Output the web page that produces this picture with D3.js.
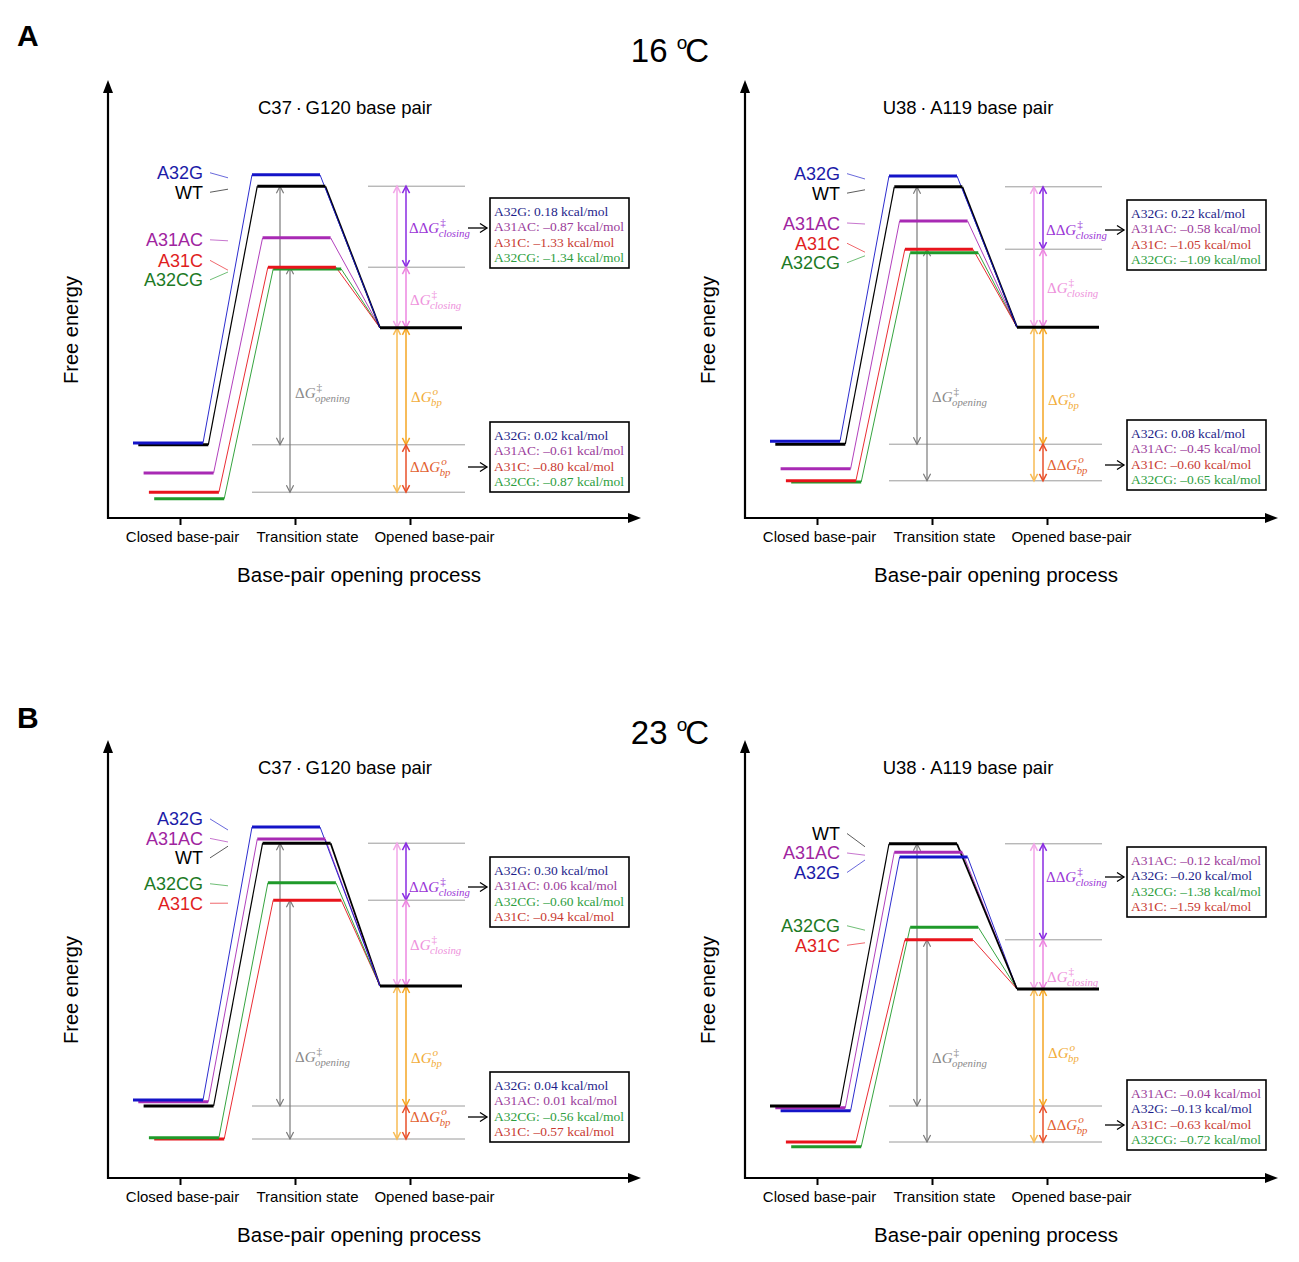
<!DOCTYPE html>
<html><head><meta charset="utf-8">
<script src="https://cdn.jsdelivr.net/npm/d3@7"></script>
<style>body{margin:0;background:#fff;} svg{display:block;font-family:"Liberation Sans",Arial,sans-serif;}</style>
</head><body><svg id="c" width="1299" height="1262"></svg>
<script>
// ---------- data ----------
const variants = ["WT", "A32G", "A31AC", "A31C", "A32CG"];
const states = ["Closed base-pair", "Transition state", "Opened base-pair"];
// free-energy levels (≈ kcal/mol; order = variants)
const closed16CG = [1.22, 1.25, 0.75, 0.43, 0.32];
const ts16CG     = [5.53, 5.72, 4.67, 4.18, 4.15];
const open16CG   = 3.17;
const closed16UA = [1.23, 1.28, 0.82, 0.62, 0.60];
const ts16UA     = [5.52, 5.70, 4.95, 4.48, 4.42];
const open16UA   = 3.18;
const closed23CG = [1.20, 1.30, 1.27, 0.65, 0.67];
const ts23CG     = [5.58, 5.85, 5.65, 4.63, 4.92];
const open23CG   = 3.20;
const closed23UA = [1.20, 1.12, 1.17, 0.60, 0.52];
const ts23UA     = [5.57, 5.35, 5.43, 3.97, 4.18];
const open23UA   = 3.15;
// boxed values
const ddgClose16CG = [["A32G","0.18"],["A31AC","\u20130.87"],["A31C","\u20131.33"],["A32CG","\u20131.34"]];
const ddgBp16CG    = [["A32G","0.02"],["A31AC","\u20130.61"],["A31C","\u20130.80"],["A32CG","\u20130.87"]];
const ddgClose16UA = [["A32G","0.22"],["A31AC","\u20130.58"],["A31C","\u20131.05"],["A32CG","\u20131.09"]];
const ddgBp16UA    = [["A32G","0.08"],["A31AC","\u20130.45"],["A31C","\u20130.60"],["A32CG","\u20130.65"]];
const ddgClose23CG = [["A32G","0.30"],["A31AC","0.06"],["A32CG","\u20130.60"],["A31C","\u20130.94"]];
const ddgBp23CG    = [["A32G","0.04"],["A31AC","0.01"],["A32CG","\u20130.56"],["A31C","\u20130.57"]];
const ddgClose23UA = [["A31AC","\u20130.12"],["A32G","\u20130.20"],["A32CG","\u20131.38"],["A31C","\u20131.59"]];
const ddgBp23UA    = [["A31AC","\u20130.04"],["A32G","\u20130.13"],["A31C","\u20130.63"],["A32CG","\u20130.72"]];
const titleCG = "C37\u2009\u00b7\u2009G120 base pair";
const titleUA = "U38\u2009\u00b7\u2009A119 base pair";

// ---------- styles / layout ----------
const serif = "'Liberation Serif','Times New Roman',serif";
const lineCol = {WT:"#000000", A32G:"#1414c8", A31AC:"#a82ab4", A31C:"#e8141c", A32CG:"#1f9a2a"};
const labCol  = {WT:"#000000", A32G:"#1c1ca8", A31AC:"#a0259f", A31C:"#e01e1e", A32CG:"#1d7a25"};
const boxCol  = {A32G:"#1e1e8a", A31AC:"#9a3c9a", A31C:"#c83a32", A32CG:"#2e9e40"};
const C = {grey:"#7a7a7a", pink:"#ec86e0", pinkL:"#f2a6e8", purple:"#8a2be2", orange:"#f5a623", orangeL:"#f7bb55", red:"#e8502a"};
const L = {closedX:25, closedW:70, tsX:144, tsW:68, openX:272, openX1:354, step:5.3,
           refUpX:260, refLowX:144, refX1:357, gOpen:[172,182], gR:[289,298], annX:302,
           boxX:382, boxW:139, boxH:70, xLen:533, yLen:438};

const panels = [
  {ox:108, oy:518, tx:237, title:titleCG, closed:closed16CG, ts:ts16CG, open:open16CG, bc:ddgClose16CG, bb:ddgBp16CG, ann:[-290,-218,-121,-51,-125]},
  {ox:745, oy:518, tx:223, title:titleUA, closed:closed16UA, ts:ts16UA, open:open16UA, bc:ddgClose16UA, bb:ddgBp16UA, ann:[-288,-230,-118,-53,-121]},
  {ox:108, oy:1178, tx:237, title:titleCG, closed:closed23CG, ts:ts23CG, open:open23CG, bc:ddgClose23CG, bb:ddgBp23CG, ann:[-291,-233,-120,-61,-121]},
  {ox:745, oy:1178, tx:223, title:titleUA, closed:closed23UA, ts:ts23UA, open:open23UA, bc:ddgClose23UA, bb:ddgBp23UA, ann:[-301,-201,-125,-53,-120]}
];

const svg = d3.select("#c");

function dArrow(g, x, y1, y2, color, w) {
  const a = 7, h = 3.6;
  g.append("line").attr("x1", x).attr("x2", x).attr("y1", y1).attr("y2", y2)
    .attr("stroke", color).attr("stroke-width", w);
  g.append("path").attr("d", `M${x-h},${y1+a}L${x},${y1}L${x+h},${y1+a}M${x-h},${y2-a}L${x},${y2}L${x+h},${y2-a}`)
    .attr("fill", "none").attr("stroke", color).attr("stroke-width", w);
}
function hArrow(g, x1, x2, y) {
  g.append("line").attr("x1", x1).attr("x2", x2).attr("y1", y).attr("y2", y).attr("stroke", "#000").attr("stroke-width", 1.3);
  g.append("path").attr("d", `M${x2-7},${y-4.5}L${x2},${y}L${x2-7},${y+4.5}`).attr("fill", "none").attr("stroke", "#000").attr("stroke-width", 1.3);
}
function mathLabel(g, x0, yc, pre, sup, sub, color, size) {
  const t = g.append("text").attr("x", x0).attr("y", yc + size*0.33)
    .attr("font-family", serif).attr("font-size", size).attr("fill", color);
  t.append("tspan").text(pre);
  t.append("tspan").attr("font-style", "italic").text("G");
  const w = t.node().getComputedTextLength();
  const s1 = g.append("text").attr("x", x0 + w + 1).attr("y", yc - size*0.12)
    .attr("font-family", serif).attr("font-size", size*0.75).attr("font-style", sup === "o" ? "italic" : "normal")
    .attr("fill", color).text(sup);
  const s2 = g.append("text").attr("x", x0 + w - 0.5).attr("y", yc + size*0.62)
    .attr("font-family", serif).attr("font-size", size*0.72).attr("font-style", "italic")
    .attr("fill", color).text(sub);
  return w + Math.max(s1.node().getComputedTextLength(), s2.node().getComputedTextLength());
}

function drawPanel(p) {
  const g = svg.append("g");
  const x = d3.scaleLinear().domain([0, L.xLen]).range([p.ox, p.ox + L.xLen]);
  const y = d3.scaleLinear().domain([0, 7.3]).range([p.oy, p.oy - L.yLen]);
  const iWT = variants.indexOf("WT"), iC = variants.indexOf("A31C");

  // reference lines
  [[p.ts[iWT], L.refUpX], [p.ts[iC], L.refUpX], [p.closed[iWT], L.refLowX], [p.closed[iC], L.refLowX]].forEach(([v, x0]) => {
    g.append("line").attr("x1", x(x0)).attr("x2", x(L.refX1)).attr("y1", y(v)).attr("y2", y(v))
      .attr("stroke", "#9a9a9a").attr("stroke-width", 1);
  });

  // annotation arrows
  dArrow(g, x(L.gOpen[0]), y(p.ts[iWT]), y(p.closed[iWT]), C.grey, 1.2);
  dArrow(g, x(L.gOpen[1]), y(p.ts[iC]), y(p.closed[iC]), C.grey, 1.2);
  dArrow(g, x(L.gR[0]), y(p.ts[iWT]), y(p.open), C.pinkL, 1.5);
  dArrow(g, x(L.gR[0]), y(p.open), y(p.closed[iC]), C.orangeL, 1.5);
  dArrow(g, x(L.gR[1]), y(p.ts[iWT]), y(p.ts[iC]), C.purple, 1.5);
  dArrow(g, x(L.gR[1]), y(p.ts[iC]), y(p.open), C.pink, 1.5);
  dArrow(g, x(L.gR[1]), y(p.open), y(p.closed[iWT]), C.orange, 1.5);
  dArrow(g, x(L.gR[1]), y(p.closed[iWT]), y(p.closed[iC]), C.red, 1.5);

  // annotation labels
  const [yDDc, yDc, yDb, yDDb, yOp] = p.ann.map(v => p.oy + v);
  mathLabel(g, x(L.annX - 1), yDDc, "\u0394\u0394", "\u2021", "closing", "#9b35d6", 15);
  mathLabel(g, x(L.annX), yDc, "\u0394", "\u2021", "closing", "#ee92dc", 15);
  mathLabel(g, x(L.annX + 1), yDb, "\u0394", "o", "bp", "#f2ad3a", 15);
  mathLabel(g, x(L.annX), yDDb, "\u0394\u0394", "o", "bp", "#e2612f", 15);
  mathLabel(g, x(L.gOpen[1] + 5), yOp, "\u0394", "\u2021", "opening", "#8a8a8a", 15);

  // boxes
  [[p.bc, yDDc, 30], [p.bb, yDDb, 45]].forEach(([rows, yy, dt]) => {
    hArrow(g, x(360), x(379), yy);
    const top = yy - dt;
    g.append("rect").attr("x", x(L.boxX)).attr("y", top).attr("width", L.boxW).attr("height", L.boxH)
      .attr("fill", "#fff").attr("stroke", "#000").attr("stroke-width", 1.6);
    g.selectAll(null).data(rows).join("text")
      .attr("x", x(L.boxX + 4)).attr("y", (d, i) => top + 13 + i * 15.5 + 4.5)
      .attr("font-family", serif).attr("font-size", 13.5)
      .attr("fill", d => boxCol[d[0]])
      .text(d => `${d[0]}: ${d[1]} kcal/mol`);
  });

  // energy levels
  const order = d3.range(variants.length).sort((a, b) => p.closed[b] - p.closed[a]);
  const off = {};
  order.forEach((i, r) => off[i] = r * L.step);
  const drawOrder = order.slice().reverse();
  drawOrder.forEach(i => {
    const v = variants[i], col = lineCol[v], o = off[i];
    g.append("path")
      .attr("d", `M${x(L.closedX + L.closedW + o)},${y(p.closed[i])}L${x(L.tsX + o)},${y(p.ts[i])}`)
      .attr("stroke", col).attr("stroke-width", v === "WT" ? 1.2 : 0.9).attr("fill", "none");
    g.append("path")
      .attr("d", `M${x(L.tsX + L.tsW + o)},${y(p.ts[i])}L${x(L.openX)},${y(p.open)}`)
      .attr("stroke", col).attr("stroke-width", v === "WT" ? 1.8 : 0.9).attr("fill", "none");
  });
  drawOrder.forEach(i => {
    const v = variants[i], col = lineCol[v], o = off[i];
    g.append("line").attr("x1", x(L.closedX + o)).attr("x2", x(L.closedX + L.closedW + o))
      .attr("y1", y(p.closed[i])).attr("y2", y(p.closed[i])).attr("stroke", col).attr("stroke-width", 3);
    g.append("line").attr("x1", x(L.tsX + o)).attr("x2", x(L.tsX + L.tsW + o))
      .attr("y1", y(p.ts[i])).attr("y2", y(p.ts[i])).attr("stroke", col).attr("stroke-width", 3);
  });
  g.append("line").attr("x1", x(L.openX)).attr("x2", x(L.openX1)).attr("y1", y(p.open)).attr("y2", y(p.open))
    .attr("stroke", "#000").attr("stroke-width", 3);

  // variant labels with simple repulsion
  const byTs = d3.range(variants.length).sort((a, b) => p.ts[b] - p.ts[a]);
  const ly = byTs.map(i => y(p.ts[i]) + 2);
  const gap = 19.5;
  for (let it = 0; it < 300; it++) {
    let moved = false;
    for (let k = 1; k < ly.length; k++) {
      const d = ly[k] - ly[k-1];
      if (d < gap - 0.01) { const s = (gap - d) / 2; ly[k-1] -= s; ly[k] += s; moved = true; }
    }
    if (!moved) break;
  }
  byTs.forEach((i, k) => {
    const v = variants[i];
    g.append("text").attr("x", x(95)).attr("y", ly[k] + 6.5).attr("text-anchor", "end")
      .attr("font-size", 18).attr("fill", labCol[v]).text(v);
    g.append("line").attr("x1", x(102)).attr("y1", ly[k]).attr("x2", x(120)).attr("y2", y(p.ts[i]) + 3)
      .attr("stroke", lineCol[v]).attr("stroke-width", 0.8).attr("opacity", 0.8);
  });

  // axes
  g.append("line").attr("x1", p.ox).attr("y1", p.oy + 1).attr("x2", p.ox).attr("y2", p.oy - L.yLen + 10)
    .attr("stroke", "#000").attr("stroke-width", 2.2);
  g.append("path").attr("d", `M${p.ox},${p.oy - L.yLen}L${p.ox - 5},${p.oy - L.yLen + 13}L${p.ox + 5},${p.oy - L.yLen + 13}Z`).attr("fill", "#000");
  g.append("line").attr("x1", p.ox - 1).attr("y1", p.oy).attr("x2", x(L.xLen - 10)).attr("y2", p.oy)
    .attr("stroke", "#000").attr("stroke-width", 2.2);
  g.append("path").attr("d", `M${x(L.xLen)},${p.oy}L${x(L.xLen - 13)},${p.oy - 5}L${x(L.xLen - 13)},${p.oy + 5}Z`).attr("fill", "#000");

  const xs = d3.scalePoint().domain(states).range([x(72), x(302)]);
  const ax = g.append("g").attr("transform", `translate(0,${p.oy})`)
    .call(d3.axisBottom(xs).tickSize(7).tickPadding(6));
  ax.select(".domain").remove();
  ax.selectAll(".tick line").attr("stroke-width", 2);
  const shift = [2, 12, 24];
  ax.selectAll(".tick text").attr("font-size", 15).attr("font-family", "'Liberation Sans',Arial,sans-serif")
    .attr("fill", "#000").attr("x", (d, i) => shift[i]);

  g.append("text").attr("x", x(251)).attr("y", p.oy + 64).attr("text-anchor", "middle")
    .attr("font-size", 20.5).text("Base-pair opening process");
  g.append("text").attr("transform", `translate(${p.ox - 30},${p.oy - 188}) rotate(-90)`)
    .attr("text-anchor", "middle").attr("font-size", 20).text("Free energy");
  g.append("text").attr("x", x(p.tx)).attr("y", p.oy - 404).attr("text-anchor", "middle")
    .attr("font-size", 18.5).text(p.title);
}

panels.forEach(drawPanel);

// headings
[["A", "16", 46], ["B", "23", 728]].forEach(([lab, t, yb]) => {
  svg.append("text").attr("x", 17).attr("y", yb).attr("font-size", 30).attr("font-weight", "bold").text(lab);
  const tt = svg.append("text").attr("x", 670).attr("y", yb + 16).attr("text-anchor", "middle").attr("font-size", 33);
  tt.append("tspan").text(t + " ");
  tt.append("tspan").attr("font-size", 19).attr("dy", -13).text("o");
  tt.append("tspan").attr("dy", 13).attr("dx", -2).text("C");
});
</script></body></html>
